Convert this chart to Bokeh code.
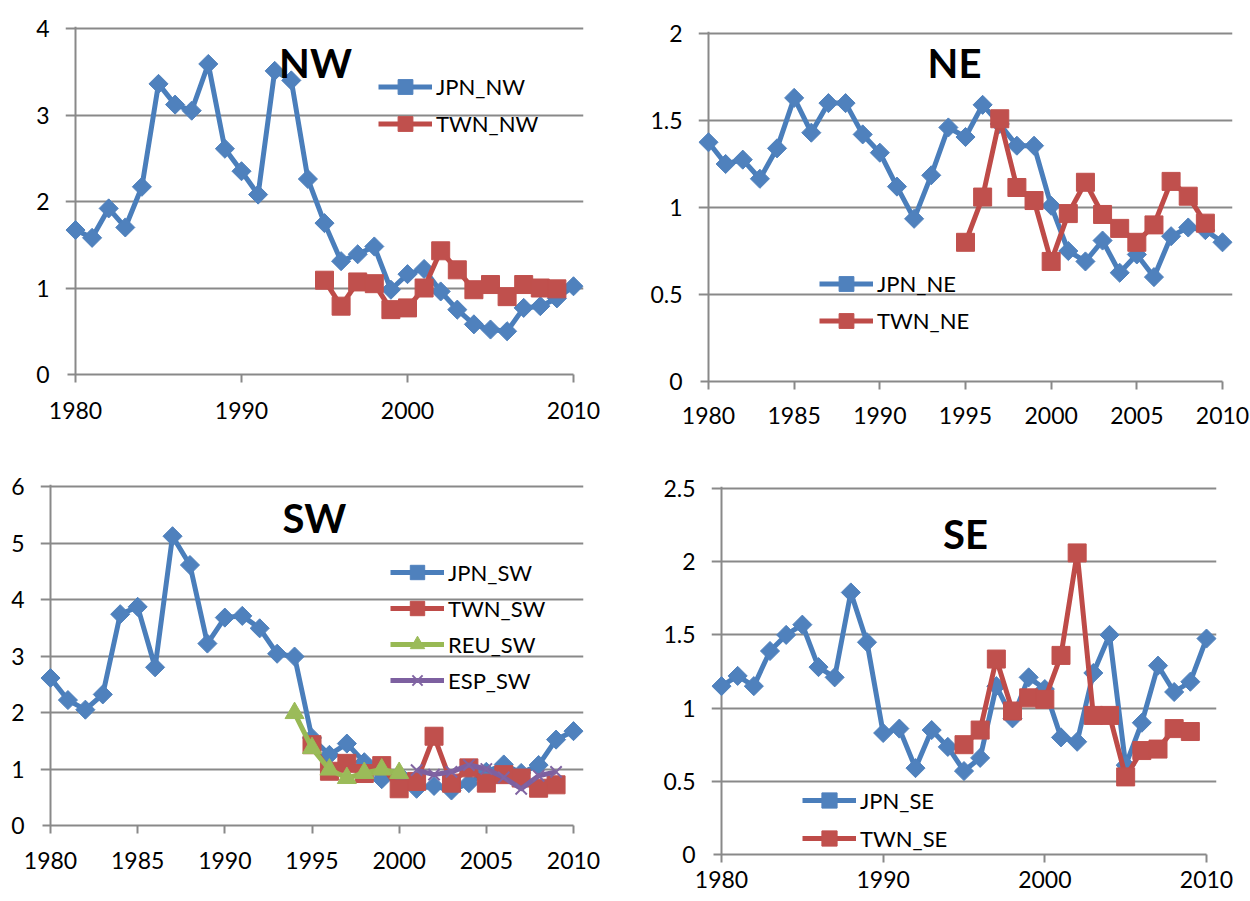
from bokeh.plotting import figure
from bokeh.models import Range1d, FixedTicker, Legend, LegendItem, Label, Span
from bokeh.layouts import column, row
from bokeh.embed import file_html
from bokeh.resources import INLINE
import numpy as np

# ---------------- data ----------------
YEARS_JPN = list(range(1980, 2011))
YEARS_TWN = list(range(1995, 2010))
YEARS_REU = list(range(1994, 2001))
YEARS_ESP = list(range(2001, 2010))

JPN_NW = [1.67, 1.58, 1.92, 1.70, 2.17, 3.36, 3.12, 3.05, 3.59, 2.61, 2.35, 2.08, 3.51, 3.40,
          2.26, 1.75, 1.31, 1.39, 1.48, 0.98, 1.16, 1.22, 0.96, 0.75, 0.58, 0.52, 0.50, 0.77,
          0.79, 0.88, 1.02]
TWN_NW = [1.09, 0.79, 1.07, 1.05, 0.75, 0.77, 1.00, 1.43, 1.21, 0.98, 1.04, 0.90, 1.04, 1.00, 0.99]

JPN_NE = [1.375, 1.25, 1.275, 1.165, 1.34, 1.63, 1.43, 1.60, 1.60, 1.42, 1.315, 1.12, 0.935, 1.185,
          1.46, 1.405, 1.59, 1.48, 1.355, 1.355, 1.01, 0.75, 0.69, 0.81, 0.625, 0.73, 0.60, 0.835,
          0.885, 0.87, 0.80]
TWN_NE = [0.80, 1.06, 1.51, 1.115, 1.04, 0.69, 0.965, 1.145, 0.96, 0.88, 0.80, 0.90, 1.15, 1.065, 0.91]

JPN_SW = [2.61, 2.22, 2.05, 2.32, 3.74, 3.87, 2.80, 5.12, 4.61, 3.22, 3.68, 3.71, 3.49, 3.04,
          2.99, 1.55, 1.25, 1.45, 1.12, 0.82, 0.90, 0.65, 0.70, 0.62, 0.75, 0.95, 1.08, 0.93,
          1.07, 1.52, 1.67]
TWN_SW = [1.43, 0.96, 1.10, 0.92, 1.06, 0.65, 0.78, 1.58, 0.75, 1.02, 0.75, 0.90, 0.84, 0.66, 0.72]
REU_SW = [1.99, 1.37, 0.99, 0.84, 0.93, 0.99, 0.93]
ESP_SW = [0.98, 0.90, 0.95, 1.07, 1.00, 0.85, 0.65, 0.88, 0.95]

JPN_SE = [1.15, 1.22, 1.15, 1.39, 1.50, 1.57, 1.28, 1.21, 1.79, 1.45, 0.83, 0.86, 0.59, 0.85,
          0.735, 0.57, 0.66, 1.15, 0.93, 1.21, 1.13, 0.80, 0.77, 1.24, 1.50, 0.61, 0.90, 1.29,
          1.11, 1.18, 1.475]
TWN_SE = [0.75, 0.85, 1.335, 0.98, 1.07, 1.06, 1.36, 2.06, 0.95, 0.95, 0.53, 0.71, 0.72, 0.86, 0.84]

X_TICKS_10 = [1980, 1990, 2000, 2010]
X_TICKS_5 = [1980, 1985, 1990, 1995, 2000, 2005, 2010]
Y_TICKS_NW = [0, 1, 2, 3, 4]
Y_LABELS_NW = ["0", "1", "2", "3", "4"]
Y_TICKS_NE = [0, 0.5, 1, 1.5, 2]
Y_LABELS_NE = ["0", "0.5", "1", "1.5", "2"]
Y_TICKS_SW = [0, 1, 2, 3, 4, 5, 6]
Y_LABELS_SW = ["0", "1", "2", "3", "4", "5", "6"]
Y_TICKS_SE = [0, 0.5, 1, 1.5, 2, 2.5]
Y_LABELS_SE = ["0", "0.5", "1", "1.5", "2", "2.5"]

# ---------------- styles ----------------
FONT = "Lato"
GRAY = "#898989"
STYLE = {
    "JPN": dict(line="#4A7EBB", fill="#4F81BD", marker="square", angle=np.pi / 4, size=13.5),
    "TWN": dict(line="#BE4B48", fill="#C0504D", marker="square", angle=0, size=18),
    "REU": dict(line="#98B954", fill="#9BBB59", marker="triangle", angle=0, size=19),
    "ESP": dict(line="#7D60A0", fill="#8064A2", marker="x", angle=0, size=16),
}

PAD = 10  # px of frame padding beyond 1980/2010


def make_panel(spec):
    fl, ft, W, H = spec["fig"]
    x0, x1, y0, y1 = spec["axes"]
    ymax = spec["yticks"][-1]
    pxyr = (x1 - x0) / 30.0
    pxunit = (y0 - y1) / ymax
    frame_left = x0 - PAD
    frame_right = x1 + PAD
    frame_top = y1 - 2
    frame_bottom = y0
    xstart = 1980 - PAD / pxyr

    p = figure(width=W, height=H, output_backend="svg", toolbar_location=None, title=None,
               x_range=Range1d(xstart, 2010 + PAD / pxyr),
               y_range=Range1d(0, ymax + 2 / pxunit),
               min_border_left=int(frame_left - fl), min_border_right=int(fl + W - frame_right),
               min_border_top=int(frame_top - ft), min_border_bottom=int(ft + H - frame_bottom))
    p.outline_line_color = None
    p.background_fill_color = "white"
    p.border_fill_color = "white"

    p.xgrid.visible = False
    p.ygrid.ticker = FixedTicker(ticks=spec["yticks"])
    p.ygrid.grid_line_color = GRAY
    p.ygrid.grid_line_width = 2

    # vertical axis line at 1980
    p.add_layout(Span(location=1980, dimension="height", line_color=GRAY, line_width=2,
                      level="underlay"))

    xa = p.xaxis[0]
    xa.bounds = (1980 - 8 / pxyr, 2010)
    xa.ticker = FixedTicker(ticks=spec["xticks"])
    xa.major_label_overrides = {t: str(t) for t in spec["xticks"]}
    xa.minor_tick_line_color = None
    xa.major_tick_in = 0
    xa.major_tick_out = 8
    xa.major_label_standoff = spec.get("xstand", 18)
    xa.axis_line_color = GRAY
    xa.axis_line_width = 2
    xa.major_tick_line_color = GRAY
    xa.major_tick_line_width = 2

    ya = p.yaxis[0]
    ya.ticker = FixedTicker(ticks=spec["yticks"])
    ya.major_label_overrides = {t: l for t, l in zip(spec["yticks"], spec["ylabels"])}
    ya.minor_tick_line_color = None
    ya.major_tick_line_color = None
    ya.axis_line_color = None
    ya.major_tick_in = 0
    ya.major_tick_out = 0
    ya.major_label_standoff = 26 - PAD

    for ax in (xa, ya):
        ax.major_label_text_font = FONT
        ax.major_label_text_font_size = "23px"
        ax.major_label_text_color = "black"

    items = []
    for name, xs, ys in spec["series"]:
        st = STYLE[name.split("_")[0]]
        lr = p.line(xs, ys, line_color=st["line"], line_width=5, line_join="round")
        if st["marker"] == "x":
            sr = p.scatter(xs, ys, marker="x", size=st["size"], line_color=st["fill"], line_width=2)
        else:
            sr = p.scatter(xs, ys, marker=st["marker"], size=st["size"], angle=st["angle"],
                           fill_color=st["fill"], line_color=st["fill"], line_width=1)
        items.append(LegendItem(label=name, renderers=[lr, sr]))

    lgx, lgy1, lgd = spec["legend"]
    n = len(items)
    gh = int(round(lgd))
    lg_top = lgy1 - gh / 2
    lg_bottom = lg_top + n * gh
    legend = Legend(items=items,
                    location=(int(round(lgx - frame_left)), int(round(frame_bottom - lg_bottom))),
                    glyph_width=54, glyph_height=gh, label_height=gh, label_standoff=4,
                    spacing=0, padding=0, margin=0, border_line_color=None,
                    background_fill_alpha=0, label_text_font=FONT,
                    label_text_font_size="22px", label_text_color="black")
    p.add_layout(legend)

    tx, ty = spec["title_pos"]
    p.add_layout(Label(x=tx - frame_left, y=frame_bottom - ty, x_units="screen", y_units="screen",
                       text=spec["title"], text_font=FONT, text_font_style="bold",
                       text_font_size="40px", text_align="center", text_baseline="middle",
                       text_color="black"))
    return p


specs = [
    dict(fig=(0, 0, 625, 450), axes=(75, 573, 374, 28), title="NW", title_pos=(315, 62),
         xticks=X_TICKS_10, yticks=Y_TICKS_NW, ylabels=Y_LABELS_NW, legend=(378, 87, 37),
         xstand=19,
         series=[("JPN_NW", YEARS_JPN, JPN_NW), ("TWN_NW", YEARS_TWN, TWN_NW)]),
    dict(fig=(625, 0, 625, 450), axes=(708, 1222, 381, 33), title="NE", title_pos=(954, 62),
         xticks=X_TICKS_5, yticks=Y_TICKS_NE, ylabels=Y_LABELS_NE, legend=(819, 283, 37),
         xstand=17,
         series=[("JPN_NE", YEARS_JPN, JPN_NE), ("TWN_NE", YEARS_TWN, TWN_NE)]),
    dict(fig=(0, 450, 625, 450), axes=(50, 573, 825, 486), title="SW", title_pos=(314, 517),
         xticks=X_TICKS_5, yticks=Y_TICKS_SW, ylabels=Y_LABELS_SW, legend=(390, 572, 36),
         xstand=18,
         series=[("JPN_SW", YEARS_JPN, JPN_SW), ("TWN_SW", YEARS_TWN, TWN_SW),
                 ("REU_SW", YEARS_REU, REU_SW), ("ESP_SW", YEARS_ESP, ESP_SW)]),
    dict(fig=(625, 450, 625, 450), axes=(721, 1206, 854, 488), title="SE", title_pos=(965, 533),
         xticks=X_TICKS_10, yticks=Y_TICKS_SE, ylabels=Y_LABELS_SE, legend=(802, 800, 38),
         xstand=8,
         series=[("JPN_SE", YEARS_JPN, JPN_SE), ("TWN_SE", YEARS_TWN, TWN_SE)]),
]

panels = [make_panel(s) for s in specs]
# wrap each figure on its own so that frames are not aligned across a row
layout = column(row(column(panels[0]), column(panels[1]), spacing=0),
                row(column(panels[2]), column(panels[3]), spacing=0), spacing=0)

open("out.html", "w").write(file_html(layout, INLINE))
